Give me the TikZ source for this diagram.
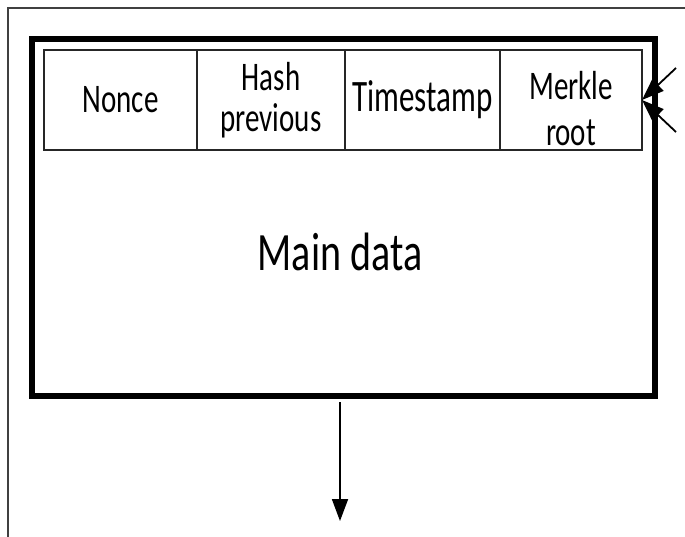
\documentclass[tikz,border=0pt]{standalone}
\usepackage{fontspec}
\setmainfont{Carlito}
\usetikzlibrary{arrows.meta, positioning}

% stretch text vertically, as in the picture
\newcommand{\tall}[2][1.4]{\scalebox{1}[#1]{#2}}

\begin{document}
\begin{tikzpicture}[
    x=1pt, y=-1pt,
    block/.style={
        rectangle, draw=black, line width=6pt, outer sep=0pt,
        minimum width=623pt, minimum height=357pt
    },
    cell/.style={
        rectangle, draw=black!85, line width=1.8pt, outer sep=0pt,
        minimum height=100pt, inner sep=0pt, align=center,
        font=\fontsize{29}{41}\selectfont
    },
    arrow/.style={-{Triangle[length=22pt, width=16pt]}, line width=1.8pt, draw=black}
]

\clip (0,0) rectangle (685,536);
\draw[black!75, line width=1.5pt] (8,8) rectangle (700,560);

% Block
\node[block] (block) at (343.5,217.5) {};

% Header
\node[cell, minimum width=153pt] (nonce) at (120.5,100) {\tall{Nonce}};
\node[cell, minimum width=148pt, right=0pt of nonce] (hash) {\tall{Hash}\\\tall{previous}};
\node[cell, minimum width=155pt, right=0pt of hash] (time) {\scalebox{1.07}[1.55]{Timestamp}};
\node[cell, minimum width=142pt, right=0pt of time] (merkle) {};
\node[align=center, font=\fontsize{29}{46}\selectfont] (merkletext)
    at ([yshift=-9pt]merkle.center) {\tall{Merkle}\\\tall{root}};

% Body
\node[font=\fontsize{40}{48}\selectfont] (main) at (340,252) {\tall[1.35]{Main data}};

% Arrows
\coordinate (in1) at (676,68);
\coordinate (in2) at (676,132);
\coordinate (out) at (340,521);
\draw[arrow] (in1) -- (merkle.east);
\draw[arrow] (in2) -- (merkle.east);
\draw[arrow, shorten <=6pt] (block.south -| out) -- (out);

\end{tikzpicture}
\end{document}
